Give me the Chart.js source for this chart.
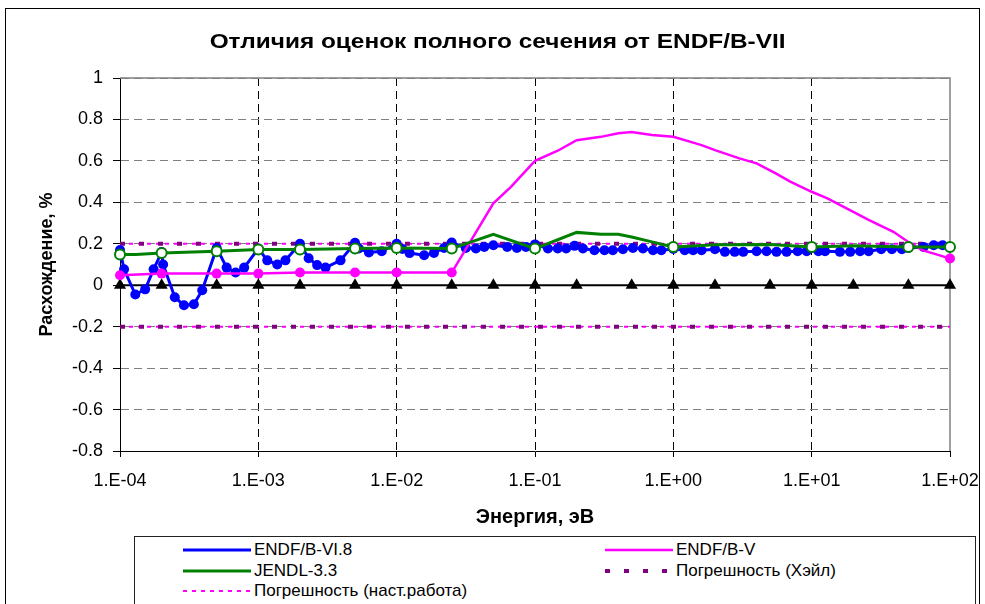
<!DOCTYPE html>
<html>
<head>
<meta charset="utf-8">
<script src="https://cdn.jsdelivr.net/npm/chart.js@4/dist/chart.umd.min.js"></script>
<style>
  html,body{margin:0;padding:0;background:#fff;}
  body{width:985px;height:604px;position:relative;overflow:hidden;font-family:"Liberation Sans",Arial,sans-serif;}
  #frame{position:absolute;left:5px;top:8px;width:973px;height:620px;border:1px solid #000;}
  #title{position:absolute;left:0;width:995px;top:30px;text-align:center;font-weight:bold;font-size:20px;transform:scaleX(1.22);transform-origin:497px 0;}
  #chart{position:absolute;left:0;top:0;}
  #legend{position:absolute;left:134px;top:536px;width:840px;height:100px;border:1px solid #222;background:#fff;}
  .item{position:absolute;height:20px;display:flex;align-items:center;font-size:17px;white-space:nowrap;}
  .item canvas{margin-right:3px;}
</style>
</head>
<body>
<div id="frame"></div>
<canvas id="chart" width="985" height="604"></canvas>
<div id="title">Отличия оценок полного сечения от ENDF/B-VII</div>
<div id="legend"></div>
<script>
// axes
const xTickValues = [1e-4, 1e-3, 1e-2, 1e-1, 1, 10, 100];
const xTickLabels = ['1.E-04','1.E-03','1.E-02','1.E-01','1.E+00','1.E+01','1.E+02'];
const yTickValues = [-0.8,-0.6,-0.4,-0.2,0,0.2,0.4,0.6,0.8,1];
const yTickLabels = ['-0.8','-0.6','-0.4','-0.2','0','0.2','0.4','0.6','0.8','1'];

// ENDF/B-VI.8
const vi8E = [1e-4,1.07e-4,1.29e-4,1.52e-4,1.75e-4,2e-4,2.05e-4,2.49e-4,2.9e-4,3.42e-4,3.93e-4,5e-4,5.9e-4,6.85e-4,7.9e-4,
  1e-3,1.16e-3,1.37e-3,1.57e-3,2e-3,2.31e-3,2.66e-3,3.06e-3,3.93e-3,5e-3,5.33e-3,6.3e-3,7.8e-3,
  1e-2,1.1e-2,1.24e-2,1.58e-2,1.86e-2,2.2e-2,2.5e-2,3.16e-2,3.74e-2,4.3e-2,5e-2,6.3e-2,7.4e-2,8.6e-2,
  0.1,0.124,0.146,0.168,0.193,0.222,0.269,0.318,0.365,0.432,0.51,0.603,0.713,0.819,
  1,1.21,1.39,1.6,2,2.36,2.78,3.2,4,4.72,5.57,6.59,7.92,9.2,
  11.2,12.5,16,19,22.4,25.8,31.8,38,44.9,50,64.4,76.2,88.5,100,115];
const vi8V = [0.17,0.077,-0.045,-0.02,0.077,0.16,0.10,-0.058,-0.097,-0.092,-0.024,0.18,0.085,0.061,0.085,
  0.177,0.12,0.10,0.12,0.20,0.13,0.097,0.085,0.12,0.205,0.177,0.158,0.164,
  0.20,0.175,0.155,0.145,0.156,0.18,0.206,0.18,0.177,0.185,0.193,0.185,0.18,0.185,
  0.197,0.177,0.177,0.177,0.19,0.177,0.169,0.169,0.169,0.174,0.18,0.177,0.169,0.169,
  0.175,0.169,0.169,0.169,0.174,0.161,0.161,0.161,0.164,0.164,0.161,0.161,0.164,0.164,
  0.164,0.164,0.161,0.161,0.164,0.164,0.174,0.174,0.174,0.18,0.185,0.193,0.193,0.183,0.18];

// ENDF/B-V
const bvE = [1e-4,2e-4,5e-4,1e-3,2e-3,5e-3,1e-2,2.5e-2,5e-2,0.067,0.1,0.146,0.2,0.3,0.4,0.5,0.7,1,1.6,2,3,4,5.5,7,10,13,20,26,39,50,63,83,100,115];
const bvV = [0.048,0.056,0.056,0.056,0.061,0.061,0.061,0.061,0.395,0.475,0.60,0.649,0.70,0.716,0.733,0.739,0.725,0.716,0.676,0.652,0.612,0.588,0.54,0.50,0.451,0.419,0.354,0.314,0.258,0.209,0.169,0.145,0.129,0.105];
const bvMarkE = [1e-4,2e-4,5e-4,1e-3,2e-3,5e-3,1e-2,2.5e-2,100];

// JENDL-3.3
const jendlE = [1e-4,1.3e-4,2e-4,5e-4,1e-3,2e-3,5e-3,1e-2,2.5e-2,5e-2,0.1,0.2,0.3,0.4,0.5,0.7,1,2,5,10,20,50,100,115];
const jendlV = [0.148,0.148,0.156,0.164,0.172,0.172,0.177,0.18,0.177,0.246,0.177,0.255,0.246,0.246,0.233,0.209,0.185,0.195,0.197,0.185,0.19,0.185,0.185,0.177];
const jendlMarkE = [1e-4,2e-4,5e-4,1e-3,2e-3,5e-3,1e-2,2.5e-2,0.1,1,10,50,100];

// ENDF/B-VII reference (zero line)
const refE = [1e-4,2e-4,5e-4,1e-3,2e-3,5e-3,1e-2,2.5e-2,5e-2,0.1,0.2,0.5,1,2,5,10,20,50,100];
const refV = [0,0,0,0,0,0,0,0,0,0,0,0,0,0,0,0,0,0,0];

// uncertainty bands, %
const haleErr = 0.2;
const workErr = 0.2;
const bandE = [1e-4, 100];

const names = ['ENDF/B-VI.8','ENDF/B-V','JENDL-3.3','Погрешность (Хэйл)','Погрешность (наст.работа)','ENDF/B-VII'];

function pts(E, V){ return E.map((e,i)=>({x:e, y:V[i]})); }
function band(err){
  return [{x:bandE[0],y:err},{x:bandE[1],y:err},{x:bandE[1],y:null},{x:bandE[0],y:-err},{x:bandE[1],y:-err}];
}

Chart.defaults.font.family = '"Liberation Sans", Arial, sans-serif';
Chart.defaults.color = '#000';

const clip8 = {left:8, top:8, right:8, bottom:8};

const datasets = [
  {label:names[0], data:pts(vi8E,vi8V), borderColor:'#0000ff', backgroundColor:'#0000ff', borderWidth:3,
   pointRadius:5, pointBorderWidth:0, pointBackgroundColor:'#0000ff', order:2, clip:clip8},
  {label:names[1], data:pts(bvE,bvV), borderColor:'#ff00ff', backgroundColor:'#ff00ff', borderWidth:2.5,
   pointRadius:c=>bvMarkE.includes(c.raw.x)?5:0, pointBorderWidth:0, pointBackgroundColor:'#ff00ff', order:1, clip:clip8},
  {label:names[2], data:pts(jendlE,jendlV), borderColor:'#008000', backgroundColor:'#008000', borderWidth:3,
   pointRadius:c=>jendlMarkE.includes(c.raw.x)?5:0, pointBorderWidth:2, pointBorderColor:'#008000', pointBackgroundColor:'#ffffff', order:0, clip:clip8},
  {label:names[3], data:band(haleErr), borderColor:'#800080', borderWidth:4, borderDash:[5,14], pointRadius:0, order:3, clip:clip8},
  {label:names[4], data:band(workErr), borderColor:'#ff00ff', borderWidth:2, borderDash:[4,5], pointRadius:0, order:4, clip:clip8},
  {label:names[5], data:pts(refE,refV), borderColor:'#000000', backgroundColor:'#000000', borderWidth:2,
   pointStyle:'triangle', pointRadius:7, pointBorderWidth:0, pointBackgroundColor:'#000000', order:5, clip:clip8}
];

// gray plot frame (top/right), like the original
const frame = {
  id:'frame',
  beforeDatasetsDraw(chart){
    const {ctx, chartArea:a} = chart;
    ctx.save();
    ctx.strokeStyle = '#808080'; ctx.lineWidth = 1.5;
    ctx.beginPath();
    ctx.moveTo(a.left, a.top); ctx.lineTo(a.right, a.top); ctx.lineTo(a.right, a.bottom);
    ctx.stroke();
    ctx.restore();
  }
};

const chart = new Chart(document.getElementById('chart'), {
  type:'line',
  data:{datasets},
  options:{
    responsive:false, animation:false, devicePixelRatio:1,
    layout:{padding:{left:36, top:78, right:35, bottom:75}},
    plugins:{legend:{display:false}, title:{display:false}, tooltip:{enabled:false}},
    scales:{
      x:{
        type:'logarithmic', min:1e-4, max:100,
        afterBuildTicks:s=>{ s.ticks = xTickValues.map(v=>({value:v})); },
        afterFit:s=>{ s.height = 78; s.paddingLeft = 0; s.paddingRight = 0; },
        ticks:{callback:(v,i)=>xTickLabels[i], font:{size:18}, padding:13, maxRotation:0, autoSkip:false},
        grid:{color:c=>(c.index===0||c.index===xTickValues.length-1)?'rgba(0,0,0,0)':'#000', tickColor:'#000', tickLength:6, lineWidth:1},
        border:{color:'#000', width:1, dash:[8,5]},
        title:{display:true, text:'Энергия, эВ', font:{size:20, weight:'bold'}, padding:0}
      },
      y:{
        min:-0.8, max:1,
        afterBuildTicks:s=>{ s.ticks = yTickValues.map(v=>({value:v})); },
        afterFit:s=>{ s.width = 84; s.paddingTop = 0; s.paddingBottom = 0; },
        ticks:{callback:(v,i)=>yTickLabels[i], font:{size:18}, padding:10},
        grid:{color:c=>c.index===0?'rgba(0,0,0,0)':'#808080', tickColor:'#000', tickLength:7, lineWidth:1},
        border:{color:'#000', width:1, dash:[8,5]},
        title:{display:true, text:'Расхождение, %', font:{size:18, weight:'bold'}, padding:0}
      }
    }
  },
  plugins:[frame]
});

// legend in two columns, as in the original
(function(){
  const box = document.getElementById('legend');
  const cols = [48, 470];
  const rows = [3, 24, 44];
  chart.data.datasets.slice(0,5).forEach((ds,i)=>{
    const it = document.createElement('div');
    it.className = 'item';
    it.style.left = cols[i%2]+'px';
    it.style.top = rows[Math.floor(i/2)]+'px';
    const cv = document.createElement('canvas');
    cv.width = 68; cv.height = 10;
    const g = cv.getContext('2d');
    g.strokeStyle = ds.borderColor; g.lineWidth = ds.borderWidth;
    g.setLineDash(ds.borderDash || []);
    g.beginPath(); g.moveTo(0,5); g.lineTo(68,5); g.stroke();
    it.appendChild(cv);
    const t = document.createElement('span');
    t.textContent = ds.label;
    it.appendChild(t);
    box.appendChild(it);
  });
})();
</script>
</body>
</html>
